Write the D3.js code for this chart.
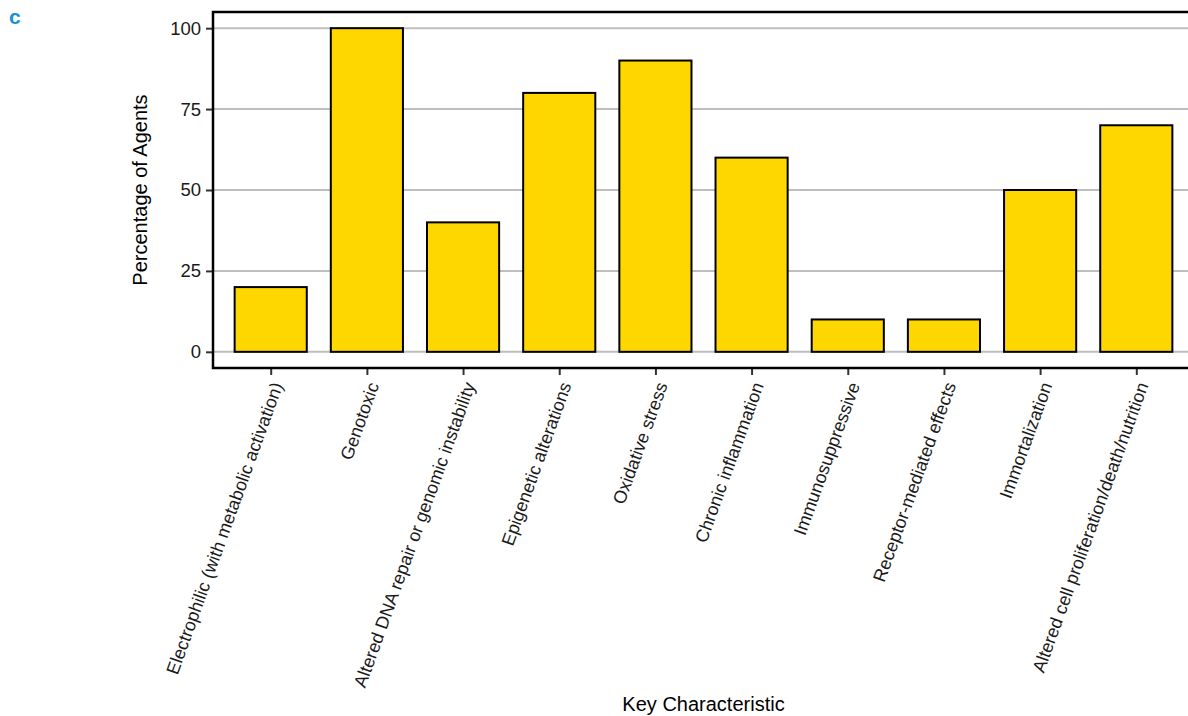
<!DOCTYPE html>
<html>
<head>
<meta charset="utf-8">
<script src="https://cdn.jsdelivr.net/npm/d3@7"></script>
<style>
  body { margin: 0; background: #fff; }
  text { font-family: "Liberation Sans", Arial, sans-serif; }
</style>
</head>
<body>
<div id="chart"></div>
<script>
var categories = [
  "Electrophilic (with metabolic activation)",
  "Genotoxic",
  "Altered DNA repair or genomic instability",
  "Epigenetic alterations",
  "Oxidative stress",
  "Chronic inflammation",
  "Immunosuppressive",
  "Receptor-mediated effects",
  "Immortalization",
  "Altered cell proliferation/death/nutrition"
];
var percentages = [20, 100, 40, 80, 90, 60, 10, 10, 50, 70];
var yTicks = [0, 25, 50, 75, 100];

var width = 1188, height = 716;
var plotLeft = 213, plotRight = 1194, plotTop = 12, plotBottom = 368;

var svg = d3.select("#chart").append("svg")
  .attr("width", width)
  .attr("height", height);

var x = d3.scalePoint()
  .domain(categories)
  .range([plotLeft, plotRight])
  .padding(0.6);

var y = d3.scaleLinear()
  .domain([-5, 105])
  .range([plotBottom, plotTop]);

var barW = x.step() * 0.75;

// grid
svg.append("g").selectAll("line")
  .data(yTicks)
  .enter().append("line")
    .attr("x1", plotLeft).attr("x2", plotRight)
    .attr("y1", function(d) { return y(d); })
    .attr("y2", function(d) { return y(d); })
    .attr("stroke", "#bebebe")
    .attr("stroke-width", 2);

// bars
svg.append("g").selectAll("rect")
  .data(percentages)
  .enter().append("rect")
    .attr("x", function(d, i) { return x(categories[i]) - barW / 2; })
    .attr("y", function(d) { return y(d); })
    .attr("width", barW)
    .attr("height", function(d) { return y(0) - y(d); })
    .attr("fill", "#ffd700")
    .attr("stroke", "#000")
    .attr("stroke-width", 2);

// y axis
var yAxis = svg.append("g")
  .attr("transform", "translate(" + plotLeft + ",0)")
  .call(d3.axisLeft(y).tickValues(yTicks).tickSize(7).tickPadding(5));
yAxis.select(".domain").remove();
yAxis.selectAll(".tick line").attr("stroke", "#333").attr("stroke-width", 2);
yAxis.selectAll(".tick text")
  .attr("fill", "#1a1a1a")
  .style("font-size", "18.5px")
  .style("font-family", "Liberation Sans, Arial, sans-serif");

// x axis
var xAxis = svg.append("g")
  .attr("transform", "translate(0," + plotBottom + ")")
  .call(d3.axisBottom(x).tickSize(7).tickPadding(4));
xAxis.select(".domain").remove();
xAxis.selectAll(".tick line").attr("stroke", "#333").attr("stroke-width", 2);
xAxis.selectAll(".tick text")
  .attr("fill", "#1a1a1a")
  .style("font-size", "18px")
  .style("font-family", "Liberation Sans, Arial, sans-serif")
  .attr("text-anchor", "end")
  .attr("dy", "0.35em")
  .attr("transform", "translate(6,15) rotate(-70)")
  .attr("y", 0).attr("x", 0);

// frame: left, top, bottom
svg.append("path")
  .attr("d", "M" + plotRight + "," + plotTop + "H" + plotLeft + "V" + plotBottom + "H" + plotRight)
  .attr("fill", "none")
  .attr("stroke", "#000")
  .attr("stroke-width", 2.5);

// titles
svg.append("text")
  .attr("transform", "translate(147," + ((plotTop + plotBottom) / 2) + ") rotate(-90)")
  .attr("text-anchor", "middle")
  .style("font-size", "20px")
  .text("Percentage of Agents");

svg.append("text")
  .attr("x", (plotLeft + plotRight) / 2)
  .attr("y", 711)
  .attr("text-anchor", "middle")
  .style("font-size", "20px")
  .text("Key Characteristic");

svg.append("text")
  .attr("x", 9).attr("y", 24)
  .attr("fill", "#1b8fd2")
  .style("font-size", "21px")
  .style("font-weight", "bold")
  .text("c");
</script>
</body>
</html>
